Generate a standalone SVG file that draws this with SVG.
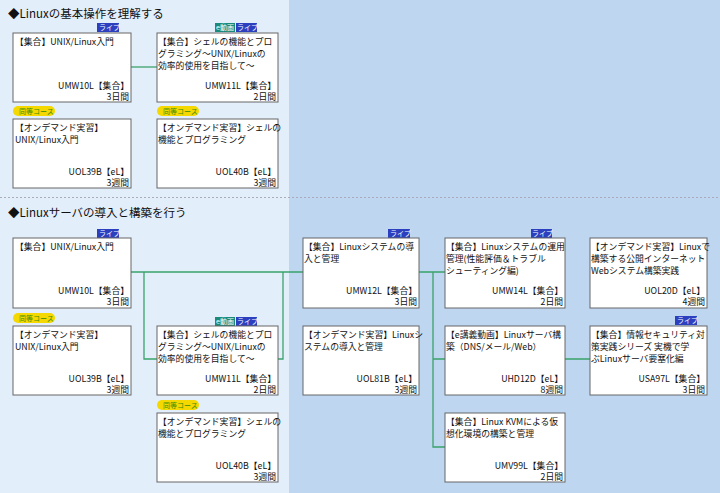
<svg xmlns="http://www.w3.org/2000/svg" width="720" height="493" viewBox="0 0 720 493">
<style>
text{font-family:"Noto Sans CJK JP","Liberation Sans",sans-serif;font-size:8.8px;fill:#111}
.t{font-size:11.5px}
.b{fill:#fff;stroke:#666;stroke-width:1}
.r{text-anchor:end}
.lv{fill:#2b3fbf}
.ev{fill:#1a8a7a}
.bt{fill:#fff;font-size:7px}
.p{fill:#f5d800}
.pt{fill:#3a8a00;font-size:7px}
.c{stroke:#3aa36a;stroke-width:1.3;fill:none}
</style>
<rect width="720" height="493" fill="#bed6f0"/>
<rect width="289" height="493" fill="#e3eefb"/>
<line x1="0" y1="197.5" x2="720" y2="197.5" stroke="#aab" stroke-dasharray="2,2"/>
<text class="t" x="8" y="18">◆Linuxの基本操作を理解する</text>
<text class="t" x="8" y="217">◆Linuxサーバの導入と構築を行う</text>
<g id="connectors">
<path class="c" d="M131 67H157"/>
<path class="c" d="M131 272H303M144 272V359H157M278 359H283V272"/>
<path class="c" d="M419 272H445M433 272V447H445M433 359H445M565 359H590"/>
</g>
<g id="n1"><rect class="lv" x="97" y="23" width="22" height="9"/><text class="bt" x="99" y="30">ライブ</text><rect class="b" x="13" y="33" width="118" height="69"/><text x="15" y="45">【集合】UNIX/Linux入門</text><text class="r" x="129" y="89">UMW10L【集合】</text><text class="r" x="129" y="100">3日間</text></g>
<g id="n2"><rect class="ev" x="215" y="23" width="20" height="9"/><text class="bt" x="216" y="30">e動画</text><rect class="lv" x="236" y="23" width="21" height="9"/><text class="bt" x="237" y="30">ライブ</text><rect class="b" x="157" y="33" width="121" height="69"/><text x="158" y="45">【集合】シェルの機能とプロ</text><text x="158" y="57">グラミング～UNIX/Linuxの</text><text x="158" y="69">効率的使用を目指して～</text><text class="r" x="276" y="89">UMW11L【集合】</text><text class="r" x="276" y="100">2日間</text></g>
<g id="n3"><rect class="p" x="13" y="106" width="42" height="10" rx="5"/><text class="pt" x="19" y="114">同等コース</text><rect class="b" x="13" y="119" width="118" height="69"/><text x="15" y="131">【オンデマンド実習】</text><text x="15" y="143">UNIX/Linux入門</text><text class="r" x="129" y="175">UOL39B【eL】</text><text class="r" x="129" y="186">3週間</text></g>
<g id="n4"><rect class="p" x="157" y="106" width="42" height="10" rx="5"/><text class="pt" x="163" y="114">同等コース</text><rect class="b" x="157" y="119" width="121" height="69"/><text x="158" y="131">【オンデマンド実習】シェルの</text><text x="158" y="143">機能とプログラミング</text><text class="r" x="276" y="175">UOL40B【eL】</text><text class="r" x="276" y="186">3週間</text></g>
<g id="n5"><rect class="lv" x="97" y="229" width="22" height="9"/><text class="bt" x="99" y="236">ライブ</text><rect class="b" x="13" y="238" width="118" height="70"/><text x="15" y="250">【集合】UNIX/Linux入門</text><text class="r" x="129" y="294">UMW10L【集合】</text><text class="r" x="129" y="305">3日間</text></g>
<g id="n6"><rect class="p" x="13" y="313" width="42" height="10" rx="5"/><text class="pt" x="19" y="321">同等コース</text><rect class="b" x="13" y="326" width="118" height="69"/><text x="15" y="338">【オンデマンド実習】</text><text x="15" y="350">UNIX/Linux入門</text><text class="r" x="129" y="382">UOL39B【eL】</text><text class="r" x="129" y="393">3週間</text></g>
<g id="n7"><rect class="ev" x="215" y="317" width="20" height="9"/><text class="bt" x="216" y="324">e動画</text><rect class="lv" x="236" y="317" width="21" height="9"/><text class="bt" x="237" y="324">ライブ</text><rect class="b" x="157" y="326" width="121" height="69"/><text x="158" y="338">【集合】シェルの機能とプロ</text><text x="158" y="350">グラミング～UNIX/Linuxの</text><text x="158" y="362">効率的使用を目指して～</text><text class="r" x="276" y="382">UMW11L【集合】</text><text class="r" x="276" y="393">2日間</text></g>
<g id="n8"><rect class="p" x="157" y="400" width="42" height="10" rx="5"/><text class="pt" x="163" y="408">同等コース</text><rect class="b" x="157" y="413" width="121" height="69"/><text x="158" y="425">【オンデマンド実習】シェルの</text><text x="158" y="437">機能とプログラミング</text><text class="r" x="276" y="469">UOL40B【eL】</text><text class="r" x="276" y="480">3週間</text></g>
<g id="n9"><rect class="lv" x="388" y="229" width="22" height="9"/><text class="bt" x="390" y="236">ライブ</text><rect class="b" x="303" y="238" width="116" height="70"/><text x="304" y="250">【集合】Linuxシステムの導</text><text x="304" y="262">入と管理</text><text class="r" x="417" y="294">UMW12L【集合】</text><text class="r" x="417" y="305">3日間</text></g>
<g id="n10"><rect class="b" x="303" y="326" width="116" height="69"/><text x="304" y="338">【オンデマンド実習】Linuxシ</text><text x="304" y="350">ステムの導入と管理</text><text class="r" x="417" y="382">UOL81B【eL】</text><text class="r" x="417" y="393">3週間</text></g>
<g id="n11"><rect class="lv" x="531" y="229" width="21" height="9"/><text class="bt" x="532" y="236">ライブ</text><rect class="b" x="445" y="238" width="120" height="70"/><text x="446" y="250">【集合】Linuxシステムの運用</text><text x="446" y="262">管理(性能評価＆トラブル</text><text x="446" y="274">シューティング編)</text><text class="r" x="563" y="294">UMW14L【集合】</text><text class="r" x="563" y="305">2日間</text></g>
<g id="n12"><rect class="b" x="445" y="326" width="120" height="69"/><text x="446" y="338">【e講義動画】Linuxサーバ構</text><text x="446" y="350">築（DNS/メール/Web）</text><text class="r" x="563" y="382">UHD12D【eL】</text><text class="r" x="563" y="393">8週間</text></g>
<g id="n13"><rect class="b" x="445" y="413" width="120" height="69"/><text x="446" y="425">【集合】Linux KVMによる仮</text><text x="446" y="437">想化環境の構築と管理</text><text class="r" x="563" y="469">UMV99L【集合】</text><text class="r" x="563" y="480">2日間</text></g>
<g id="n14"><rect class="b" x="590" y="238" width="117" height="70"/><text x="591" y="250">【オンデマンド実習】Linuxで</text><text x="591" y="262">構築する公開インターネット</text><text x="591" y="274">Webシステム構築実践</text><text class="r" x="705" y="294">UOL20D【eL】</text><text class="r" x="705" y="305">4週間</text></g>
<g id="n15"><rect class="lv" x="675" y="316" width="22" height="9"/><text class="bt" x="677" y="323">ライブ</text><rect class="b" x="590" y="326" width="117" height="69"/><text x="591" y="338">【集合】情報セキュリティ対</text><text x="591" y="350">策実践シリーズ  実機で学</text><text x="591" y="362">ぶLinuxサーバ要塞化編</text><text class="r" x="705" y="382">USA97L【集合】</text><text class="r" x="705" y="393">3日間</text></g>
</svg>
